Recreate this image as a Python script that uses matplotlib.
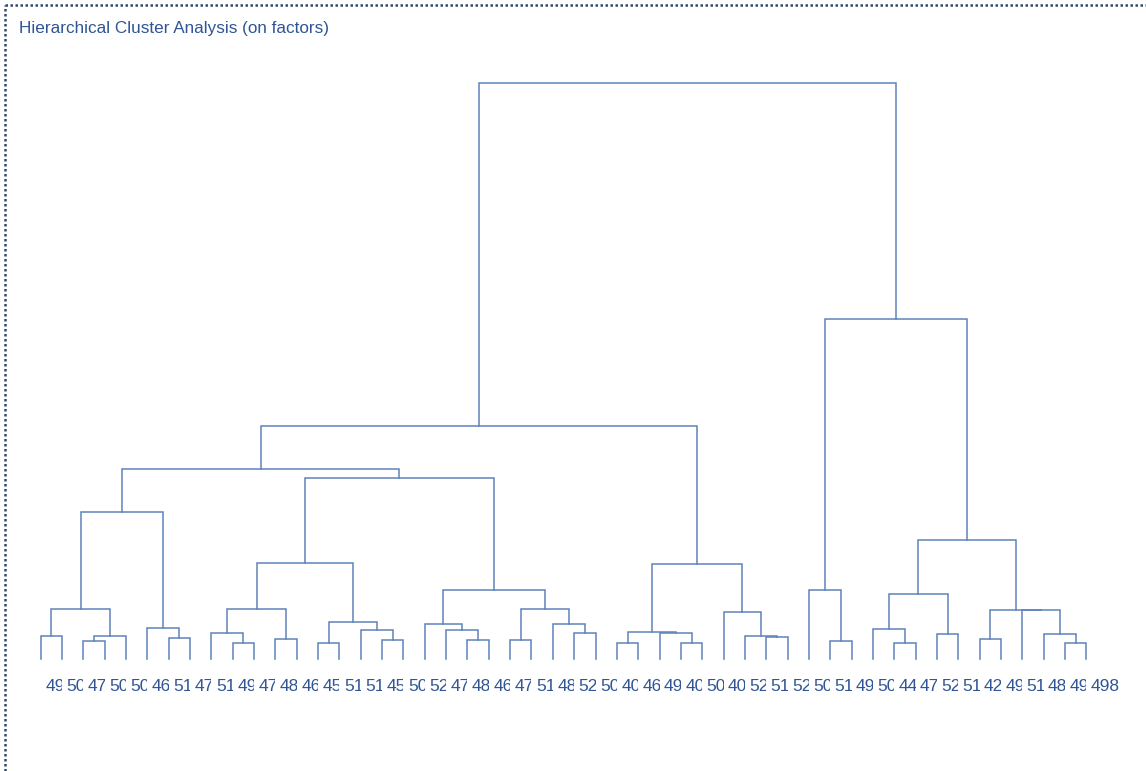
import matplotlib
matplotlib.use('Agg')
import matplotlib.pyplot as plt
from matplotlib.patches import Rectangle
from matplotlib.lines import Line2D

plt.rcParams['font.family'] = ['Liberation Sans', 'DejaVu Sans']

# leaf labels in dendrogram order (only the visible part of each label)
leaf_labels = ['49', '50', '47', '50', '50', '46', '51', '47', '51', '49',
               '47', '48', '46', '45', '51', '51', '45', '50', '52', '47',
               '48', '46', '47', '51', '48', '52', '50', '40', '46', '49',
               '40', '50', '40', '52', '51', '52', '50', '51', '49', '50',
               '44', '47', '52', '51', '42', '49', '51', '48', '49', '498']

# merge steps: leaves are nodes 0..49, step k creates node 50 + k
merge_left = [0, 2, 51, 50, 6, 5, 53, 9, 8, 11,
              58, 13, 16, 15, 61, 60, 20, 19, 18, 22,
              25, 24, 69, 68, 65, 56, 27, 30, 29, 76,
              34, 33, 32, 79, 75, 37, 36, 40, 39, 42,
              88, 44, 48, 47, 46, 91, 90, 86, 84]
merge_right = [1, 3, 4, 52, 7, 54, 55, 10, 57, 12,
               59, 14, 17, 62, 63, 64, 21, 66, 67, 23,
               26, 70, 71, 72, 73, 74, 28, 31, 77, 78,
               35, 80, 81, 82, 83, 38, 85, 41, 87, 43,
               89, 45, 49, 92, 93, 94, 95, 96, 97]
merge_dist = [0.58, 0.45, 0.58, 1.26, 0.53, 0.78, 3.68, 0.39, 0.64, 0.49,
              1.26, 0.40, 0.48, 0.73, 0.92, 2.39, 0.48, 0.73, 0.88, 0.48,
              0.64, 0.88, 1.26, 1.73, 4.52, 4.76, 0.39, 0.39, 0.64, 0.68,
              0.54, 0.58, 1.17, 2.37, 5.83, 0.45, 1.72, 0.39, 0.74, 0.63,
              1.63, 0.49, 0.39, 0.63, 1.22, 1.23, 2.98, 8.50, 14.40]

line_color = '#5f82bb'
text_color = '#2f5597'

fig = plt.figure(figsize=(11.46, 7.71), dpi=100)
ax = fig.add_axes([0, 0, 1, 1])
ax.set_xlim(-1.907, 51.797)
ax.set_ylim(-2.8, 16.475)
ax.axis('off')

# draw the tree, each merge as a bracket between its two children
n = len(leaf_labels)
xs = [float(i) for i in range(n)]
ys = [0.0] * n
for a, b, d in zip(merge_left, merge_right, merge_dist):
    ax.plot([xs[a], xs[a], xs[b], xs[b]], [ys[a], d, d, ys[b]],
            color=line_color, lw=1.1, solid_joinstyle='miter')
    xs.append((xs[a] + xs[b]) / 2)
    ys.append(d)

# leaf labels, cut to the width of one leaf slot
for i, lab in enumerate(leaf_labels):
    t = ax.text(i + 0.21, -0.68, lab, ha='left', va='center',
                fontsize=12.5, color=text_color)
    if i < n - 1:
        clip = Rectangle((i, -2), 1.0, 2, transform=ax.transData)
        t.set_clip_path(clip)
        t.set_clip_on(True)

fig.text(19 / 1146, 1 - 29 / 771, 'Hierarchical Cluster Analysis (on factors)',
         ha='left', va='center', fontsize=12.3, color=text_color)

# dotted frame along the top and left edges
border = dict(color='#34486f', lw=1.8, linestyle=(0, (1, 1)))
fig.add_artist(Line2D([5 / 1146, 1], [1 - 5 / 771, 1 - 5 / 771], **border))
fig.add_artist(Line2D([5 / 1146, 5 / 1146], [0, 1 - 5 / 771], **border))

fig.savefig('out.png', dpi=100)
